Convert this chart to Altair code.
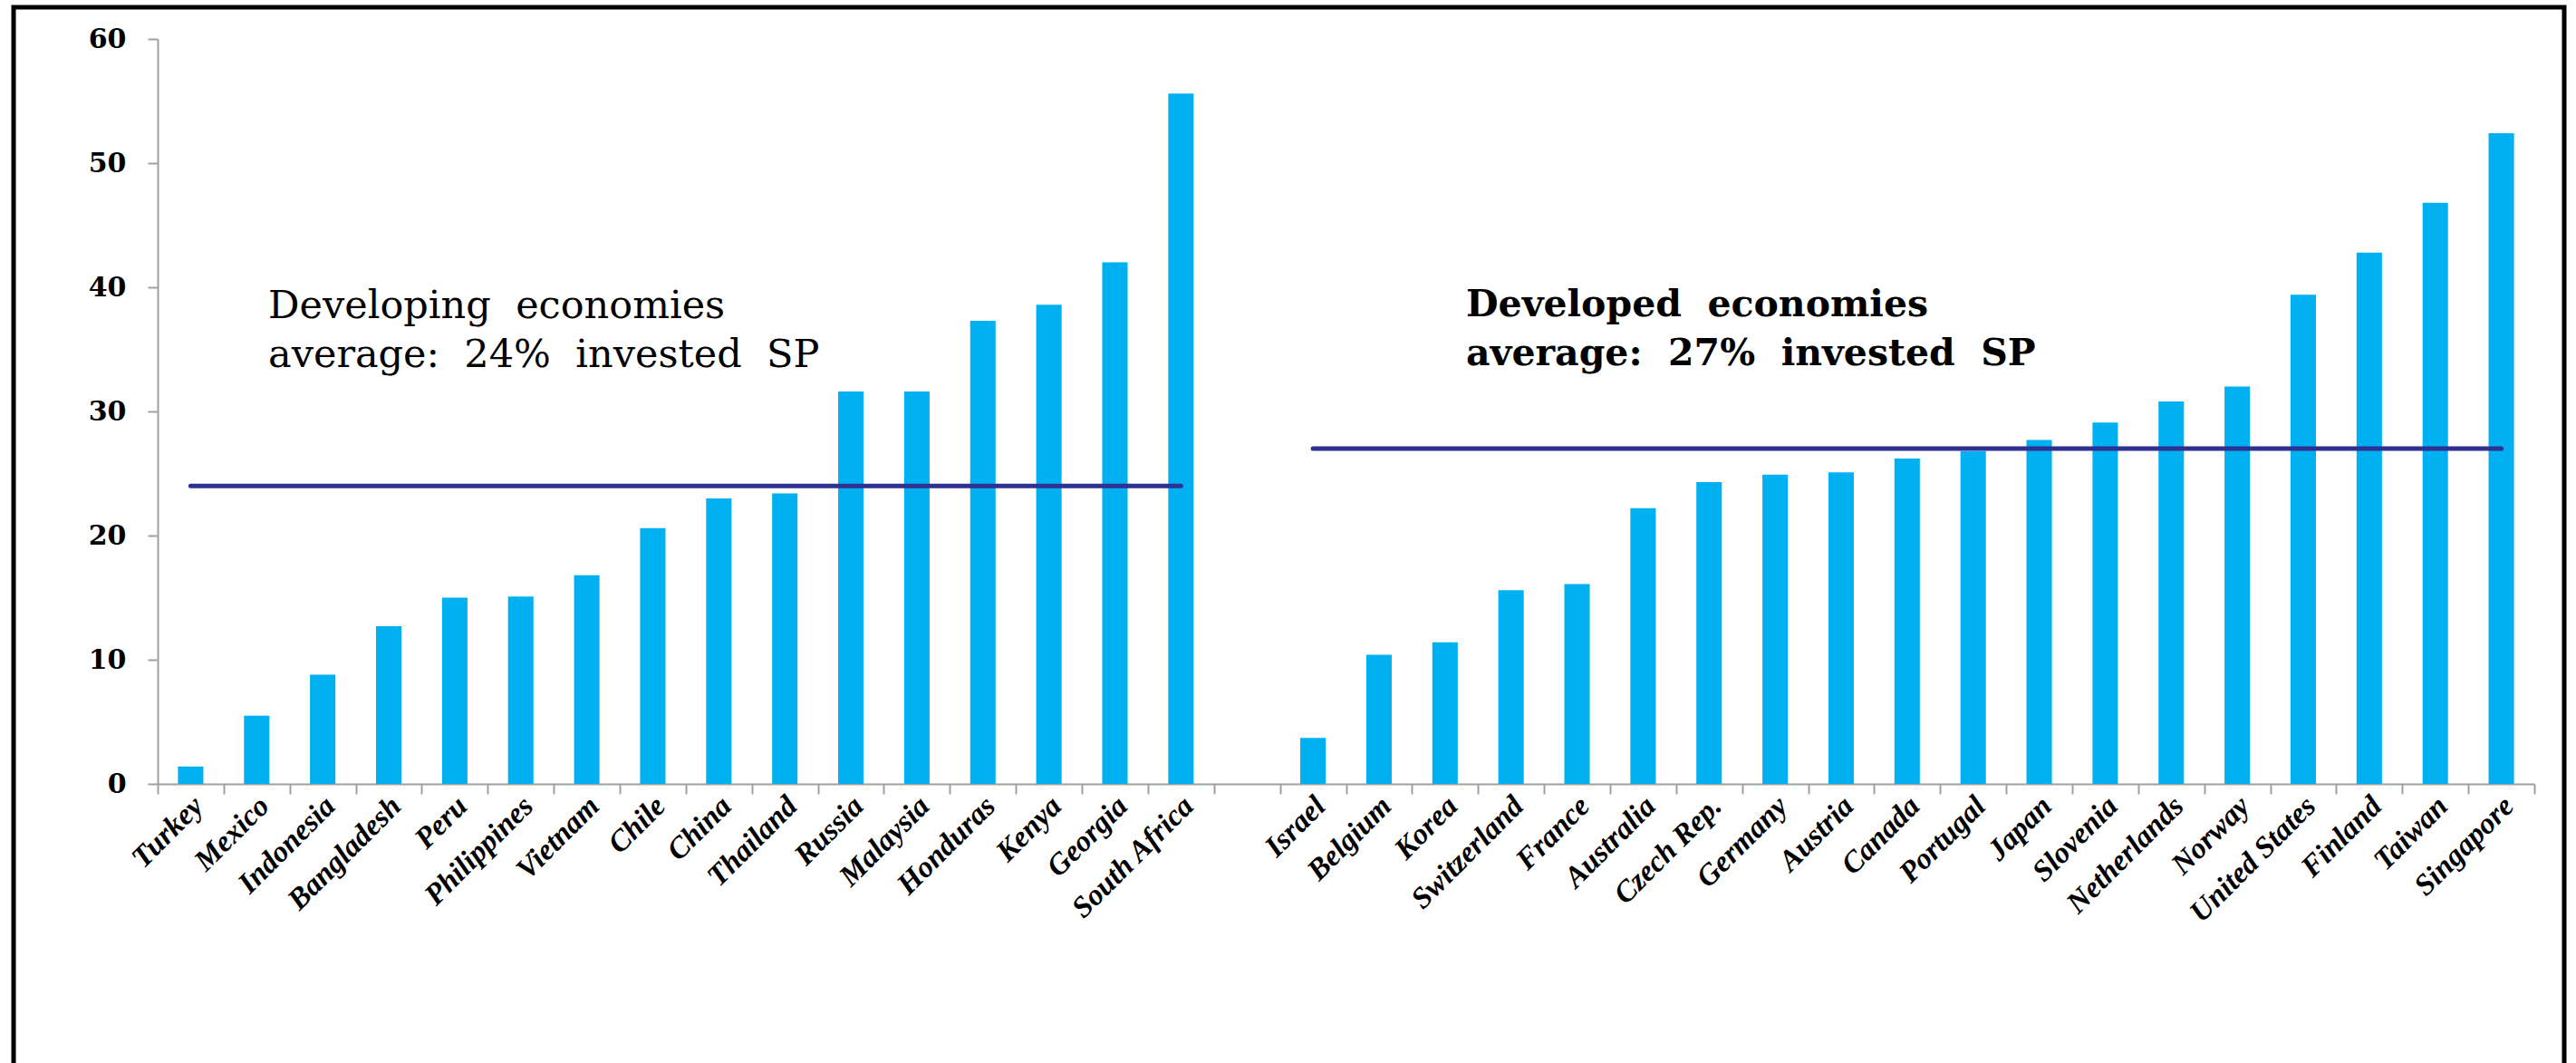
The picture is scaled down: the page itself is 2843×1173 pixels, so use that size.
import altair as alt
import pandas as pd

# Share of social-protection assets invested, by economy (%)
developing = ["Turkey", "Mexico", "Indonesia", "Bangladesh", "Peru", "Philippines",
              "Vietnam", "Chile", "China", "Thailand", "Russia", "Malaysia",
              "Honduras", "Kenya", "Georgia", "South Africa"]
developing_values = [1.4, 5.5, 8.8, 12.7, 15.0, 15.1, 16.8, 20.6, 23.0, 23.4,
                     31.6, 31.6, 37.3, 38.6, 42.0, 55.6]

developed = ["Israel", "Belgium", "Korea", "Switzerland", "France", "Australia",
             "Czech Rep.", "Germany", "Austria", "Canada", "Portugal", "Japan",
             "Slovenia", "Netherlands", "Norway", "United States", "Finland",
             "Taiwan", "Singapore"]
developed_values = [3.7, 10.4, 11.4, 15.6, 16.1, 22.2, 24.3, 24.9, 25.1, 26.2,
                    26.8, 27.7, 29.1, 30.8, 32.0, 39.4, 42.8, 46.8, 52.4]

group_names = ["Developing", "Developed"]
group_averages = [24, 27]
y_ticks = [0, 10, 20, 30, 40, 50, 60]

GAP = " "  # empty slot separating the two groups
x_domain = developing + [GAP] + developed

bars_df = pd.DataFrame({
    "country": developing + developed,
    "value": developing_values + developed_values,
})
avg_df = pd.DataFrame({
    "group": group_names,
    "start": [developing[0], developed[0]],
    "end": [developing[-1], developed[-1]],
    "avg": group_averages,
})

SERIF = "DejaVu Serif"
TIMES = "Liberation Serif"
SP2 = "\u00a0 "  # double space

x_axis = alt.Axis(
    title="", tickBand="extent", labelAngle=-45, labelAlign="right",
    labelBaseline="middle", labelFont=TIMES, labelFontWeight="bold",
    labelFontStyle="italic", labelFontSize=33, labelColor="black",
    labelPadding=8, labelOffset=8, labelLimit=500, labelOverlap=False,
    tickSize=11, tickWidth=2, tickColor="#A0A0A0",
    domainColor="#A0A0A0", domainWidth=2,
)
y_axis = alt.Axis(
    title="", values=y_ticks, grid=False, labelFont=SERIF,
    labelFontWeight="bold", labelFontSize=30, labelColor="black",
    labelPadding=24, tickSize=11, tickWidth=2, tickColor="#A0A0A0",
    domainColor="#A0A0A0", domainWidth=2,
)
x_scale = alt.Scale(domain=x_domain, paddingInner=0, paddingOuter=0)
y_scale = alt.Scale(domain=[0, 60], nice=False)

bars = alt.Chart(bars_df).mark_bar(
    color="#00B0F0", width=alt.RelativeBandSize(0.385)
).encode(
    x=alt.X("country:N", scale=x_scale, axis=x_axis, sort=x_domain),
    y=alt.Y("value:Q", scale=y_scale, axis=y_axis),
)

avg_lines = alt.Chart(avg_df).mark_rule(
    color="#2E3192", strokeWidth=5, strokeCap="round"
).encode(
    x=alt.X("start:N", scale=x_scale, axis=x_axis),
    x2="end:N",
    y=alt.Y("avg:Q", scale=y_scale, axis=y_axis),
)

label_dev = alt.Chart(alt.Data(values=[{}])).mark_text(
    text=[f"{group_names[0]}{SP2}economies",
          f"average:{SP2}{group_averages[0]}%{SP2}invested{SP2}SP"],
    font=SERIF, fontSize=43, align="left", baseline="alphabetic",
    lineHeight=54, color="black",
).encode(x=alt.value(122), y=alt.value(308))

label_adv = alt.Chart(alt.Data(values=[{}])).mark_text(
    text=[f"{group_names[1]}{SP2}economies",
          f"average:{SP2}{group_averages[1]}%{SP2}invested{SP2}SP"],
    font=SERIF, fontSize=41, fontWeight="bold", align="left",
    baseline="alphabetic", lineHeight=54, color="black",
).encode(x=alt.value(1444), y=alt.value(306))

# Black frame around the whole figure
frame = alt.Chart(alt.Data(values=[{}])).mark_rect(
    fillOpacity=0, stroke="black", strokeWidth=5
).encode(
    x=alt.value(-159), x2=alt.value(2656),
    y=alt.value(-35), y2=alt.value(1300),
)

chart = alt.layer(bars, avg_lines, label_dev, label_adv, frame).properties(
    width=2623, height=822,
    padding={"left": 174, "top": 43, "right": 46, "bottom": 308},
    autosize=alt.AutoSizeParams(type="none"),
    background="white",
).configure_view(stroke="transparent")

chart.save("out.html", embed_options={"renderer": "svg", "actions": False})
